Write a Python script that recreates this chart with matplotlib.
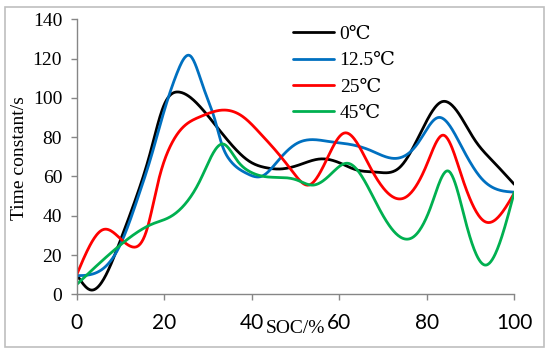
import matplotlib.pyplot as plt
import numpy as np
from matplotlib.patches import Rectangle

# traced points (SOC %, time constant s)
soc_0 = [0, 3.2, 9.9, 13.7, 16.8, 19.8, 23.2, 28.2, 32, 35.8, 39.6, 43.4, 46.5, 51, 55.6, 60, 64, 68.5, 74, 79, 83.4, 87, 91, 95, 100]
tau_0 = [10, 2.2, 27, 50, 72, 95.5, 103, 95.5, 85.3, 75.1, 67.5, 64.4, 63.8, 66, 68.9, 67, 63.3, 62.2, 65, 84, 98, 93, 78.5, 68, 56]

soc_12 = [0, 6.1, 9.9, 14.1, 17, 19.8, 22.9, 26, 28.9, 31.6, 33.1, 35, 38.8, 42.4, 46, 50.3, 57.9, 62, 67, 73, 78, 82.6, 88, 92.5, 100]
tau_12 = [9.5, 13.2, 25, 50, 70, 92, 112.5, 121.3, 105.6, 88.7, 76.8, 68.3, 61.6, 60.2, 68, 76.8, 77.7, 76.5, 73.4, 69.2, 77, 90, 75, 59, 52]

soc_25 = [0, 6.1, 9.9, 12.6, 16, 18.7, 21.3, 24.4, 28.2, 33.5, 38, 41.9, 45.7, 49.5, 53, 57, 61, 67, 75, 80, 83.8, 88, 93.3, 100]
tau_25 = [10, 33, 28.5, 24.2, 32.7, 58, 75, 85.3, 90.4, 93.8, 90.4, 82, 72.6, 62, 55.6, 68, 82, 65, 49.2, 66, 81, 60, 37, 51.5]

soc_45 = [0, 9.9, 17.5, 21, 25.5, 28.2, 33.5, 36.6, 39.6, 43.4, 50.3, 54, 58, 62, 69.3, 77, 81, 85, 89, 93.3, 100]
tau_45 = [5, 25, 36, 39, 48, 58, 76.5, 68.3, 62.4, 59.8, 58.2, 55.6, 61, 66.7, 42.9, 29.3, 45, 62.7, 36, 14.9, 51.9]

labels = ['0℃', '12.5℃', '25℃', '45℃']
colors = ['#000000', '#0070C0', '#FF0000', '#00B050']


def smooth(x, y, n=600):
    # natural cubic spline through the traced points
    x = np.asarray(x, float)
    y = np.asarray(y, float)
    k = len(x)
    h = np.diff(x)
    A = np.zeros((k, k))
    b = np.zeros(k)
    A[0, 0] = A[-1, -1] = 1
    for i in range(1, k - 1):
        A[i, i - 1] = h[i - 1]
        A[i, i] = 2 * (h[i - 1] + h[i])
        A[i, i + 1] = h[i]
        b[i] = 6 * ((y[i + 1] - y[i]) / h[i] - (y[i] - y[i - 1]) / h[i - 1])
    M = np.linalg.solve(A, b)
    xs = np.linspace(x[0], x[-1], n)
    j = np.clip(np.searchsorted(x, xs) - 1, 0, k - 2)
    t0 = x[j + 1] - xs
    t1 = xs - x[j]
    hj = h[j]
    ys = (M[j] * t0 ** 3 / (6 * hj) + M[j + 1] * t1 ** 3 / (6 * hj)
          + (y[j] / hj - M[j] * hj / 6) * t0 + (y[j + 1] / hj - M[j + 1] * hj / 6) * t1)
    return xs, ys


fig = plt.figure(figsize=(5.5, 3.51), dpi=100)
fig.patches.append(Rectangle((5 / 550, 1 - 347 / 351), 539 / 550, 340 / 351,
                             transform=fig.transFigure, fill=False,
                             edgecolor='#bfbfbf', linewidth=1.2))
ax = fig.add_axes([0.1395, 0.1615, 0.7955, 0.7835])

serif = ['Liberation Serif', 'DejaVu Serif']
for xs, ys, lab, c in zip([soc_0, soc_12, soc_25, soc_45],
                          [tau_0, tau_12, tau_25, tau_45], labels, colors):
    sx, sy = smooth(xs, ys)
    ax.plot(sx, sy, color=c, lw=2, label=lab, solid_capstyle='round')

ax.set_xlim(0, 100)
ax.set_ylim(0, 140)
ax.set_xticks(np.arange(0, 101, 20))
ax.set_yticks(np.arange(0, 141, 20))
for s in ['top', 'right']:
    ax.spines[s].set_visible(False)
for s in ['left', 'bottom']:
    ax.spines[s].set_color('#868686')
    ax.spines[s].set_linewidth(1)
ax.tick_params(axis='both', direction='out', length=4.5, color='#868686', width=1)
ax.tick_params(axis='x', pad=9)
ax.tick_params(axis='y', pad=6)
for t in ax.get_xticklabels():
    t.set_fontfamily('Lato')
    t.set_fontsize(15)
for t in ax.get_yticklabels():
    t.set_fontfamily(serif)
    t.set_fontsize(14)

fig.text(0.537, 0.063, 'SOC/%', ha='center', va='center', fontsize=14, family=serif)
fig.text(0.036, 0.55, 'Time constant/s', ha='center', va='center', rotation=90,
         fontsize=14, family=serif)

leg = ax.legend(loc='upper left', bbox_to_anchor=(0.515, 0.955), bbox_transform=fig.transFigure,
                frameon=False, prop={'family': serif, 'size': 14},
                handlelength=2.1, handletextpad=0.3, labelspacing=0.45, borderpad=0)

fig.savefig('out.png', dpi=100)
